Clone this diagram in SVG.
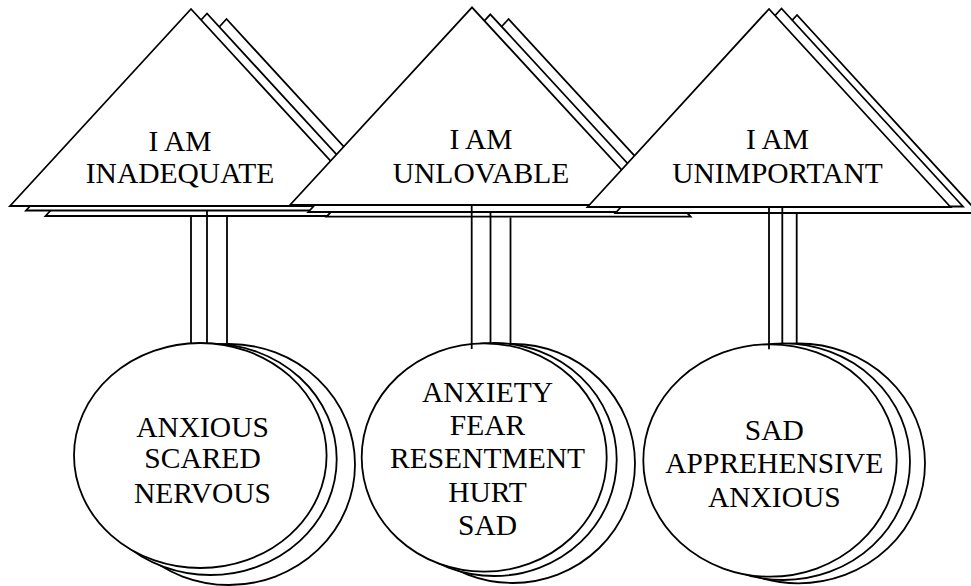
<svg xmlns="http://www.w3.org/2000/svg" width="971" height="586" viewBox="0 0 971 586">
  <style>
    .sh { fill: #ffffff; stroke: #000000; stroke-width: 1.8; stroke-linejoin: miter; }
    .ln { stroke: #000000; stroke-width: 1.8; fill: none; }
    .tx { font-family: "Liberation Serif", "Times New Roman", serif; font-size: 29.5px; fill: #000000; text-anchor: middle; }
  </style>
  <rect x="0" y="0" width="971" height="586" fill="#ffffff"/>

  <!-- Belief triangles, each a stack of three sheets -->
  <g id="tri-inadequate">
    <polygon class="sh" points="226.5,19 45.5,216 407.5,216"/>
    <polygon class="sh" points="207,13.5 26,210.5 388,210.5"/>
    <polygon class="sh" points="191,9 10,206 372,206"/>
    <text class="tx" x="180" y="151">I AM</text>
    <text class="tx" x="180" y="183.3">INADEQUATE</text>
  </g>
  <g id="tri-unlovable">
    <polygon class="sh" points="508.6,19 326.6,216.7 690.6,216.7"/>
    <polygon class="sh" points="490.3,14.3 308.3,212 672.3,212"/>
    <polygon class="sh" points="472,7.3 290,205 654,205"/>
    <text class="tx" x="481" y="149">I AM</text>
    <text class="tx" x="481" y="182.7">UNLOVABLE</text>
  </g>
  <g id="tri-unimportant">
    <polygon class="sh" points="797,15 615.5,213 978.5,213"/>
    <polygon class="sh" points="781.5,8.5 600,206.5 963,206.5"/>
    <polygon class="sh" points="769,9 587.5,207 950.5,207"/>
    <text class="tx" x="777.5" y="148.5">I AM</text>
    <text class="tx" x="777.5" y="182.7">UNIMPORTANT</text>
  </g>

  <!-- Feeling circles, stacked the same way -->
  <g id="feel-1">
    <ellipse class="sh" cx="229" cy="464.5" rx="126" ry="120.5"/>
    <ellipse class="sh" cx="210.3" cy="459.3" rx="126.4" ry="115.7"/>
    <ellipse class="sh" cx="200.3" cy="455.5" rx="126.3" ry="112.5"/>
    <text class="tx" x="202.5" y="436.7">ANXIOUS</text>
    <text class="tx" x="202.5" y="468.3">SCARED</text>
    <text class="tx" x="202.5" y="503.3">NERVOUS</text>
  </g>
  <g id="feel-2">
    <ellipse class="sh" cx="512.7" cy="463.5" rx="122.3" ry="119.5"/>
    <ellipse class="sh" cx="494.2" cy="459.5" rx="122.5" ry="116.5"/>
    <ellipse class="sh" cx="484.2" cy="457.5" rx="122.5" ry="114.2"/>
    <text class="tx" x="487.5" y="401.7">ANXIETY</text>
    <text class="tx" x="487.5" y="435">FEAR</text>
    <text class="tx" x="487.5" y="468.3">RESENTMENT</text>
    <text class="tx" x="487.5" y="502.3">HURT</text>
    <text class="tx" x="487.5" y="535">SAD</text>
  </g>
  <g id="feel-3">
    <ellipse class="sh" cx="798.3" cy="463.4" rx="126.7" ry="119.9"/>
    <ellipse class="sh" cx="783.3" cy="461.7" rx="126.7" ry="118.3"/>
    <ellipse class="sh" cx="770" cy="460.5" rx="126.7" ry="116.2"/>
    <text class="tx" x="774.3" y="440">SAD</text>
    <text class="tx" x="774.3" y="473.3">APPREHENSIVE</text>
    <text class="tx" x="774.3" y="507.3">ANXIOUS</text>
  </g>

  <!-- Stems joining each triangle stack to its circle stack -->
  <g id="connectors">
    <line class="ln" x1="191" y1="216.7" x2="191" y2="343.3"/>
    <line class="ln" x1="207" y1="210.7" x2="207" y2="343.3"/>
    <line class="ln" x1="227" y1="216.5" x2="227" y2="343.8"/>
    <line class="ln" x1="471.7" y1="206" x2="471.7" y2="349"/>
    <line class="ln" x1="490.5" y1="213" x2="490.5" y2="343"/>
    <line class="ln" x1="510.5" y1="217.5" x2="510.5" y2="344"/>
    <line class="ln" x1="769" y1="208" x2="769" y2="349.3"/>
    <line class="ln" x1="782.3" y1="208" x2="782.3" y2="343.3"/>
    <line class="ln" x1="796.7" y1="213.8" x2="796.7" y2="343.7"/>
  </g>
</svg>
